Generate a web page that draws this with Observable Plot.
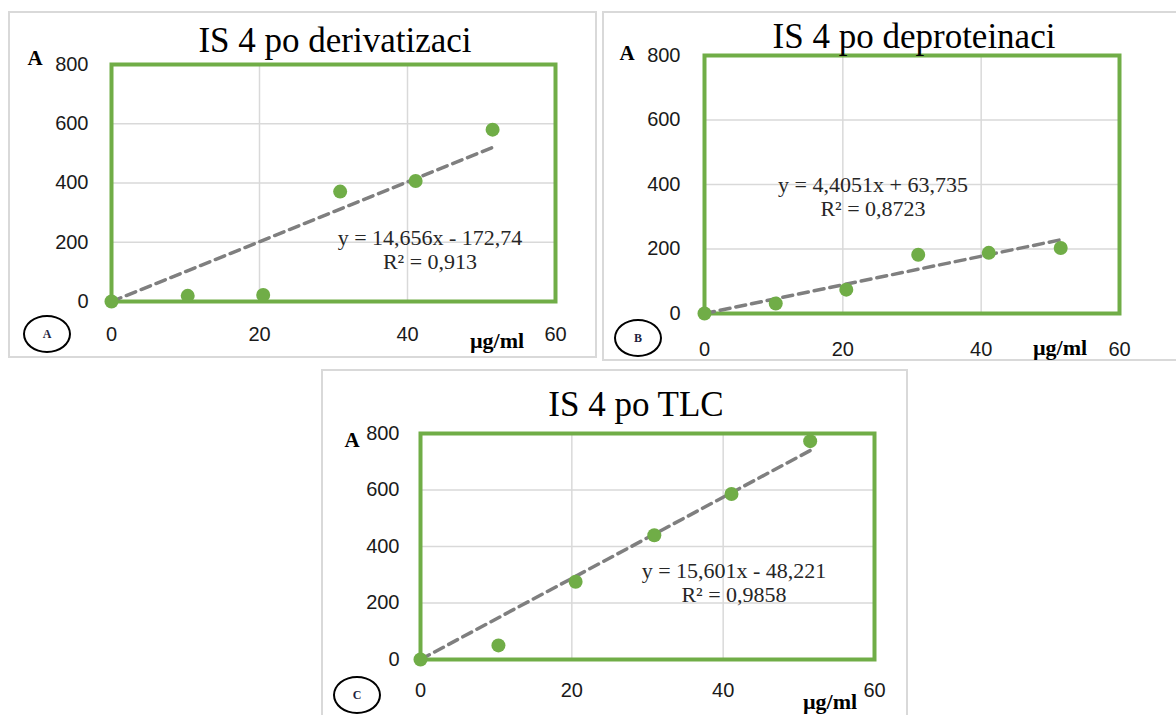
<!DOCTYPE html>
<html>
<head>
<meta charset="utf-8">
<script src="https://cdn.jsdelivr.net/npm/d3@7"></script>
<script src="https://cdn.jsdelivr.net/npm/@observablehq/plot@0.6"></script>
<style>
  html, body { margin: 0; padding: 0; background: #fff; }
  body { width: 1176px; height: 715px; position: relative; overflow: hidden; }
  .panel { position: absolute; border: 2px solid #d9d9d9; box-sizing: border-box; background: #fff; }
  .abs { position: absolute; white-space: nowrap; line-height: 1; transform: translate(-50%, -50%); }
  .title { font-family: "Liberation Serif", "Times New Roman", serif; font-size: 35px; color: #000; }
  .eq { font-family: "Liberation Serif", "Times New Roman", serif; font-size: 22px; color: #262626; text-align: center; line-height: 24px; }
  .ylab { font-family: "Liberation Serif", serif; font-weight: bold; font-size: 21px; color: #000; }
  .xlab { font-family: "Liberation Serif", serif; font-weight: bold; font-size: 22px; color: #000; }
  .circ { position: absolute; border: 2px solid #000; border-radius: 50%; box-sizing: border-box;
          display: flex; align-items: center; justify-content: center;
          font-family: "Liberation Serif", serif; font-weight: bold; font-size: 12px; color: #1f1f3f; }
  .chart { position: absolute; }
</style>
</head>
<body>
<script>
// ---- data ----
const concentration = [0, 10.3, 20.5, 30.9, 41.1, 51.5];
const absDerivatizace = [0, 19, 22, 371, 407, 580];
const absDeproteinace = [0, 31, 74, 182, 188, 203];
const absTLC = [0, 50, 275, 440, 586, 773];
const trendX = [0, 51.6];
const trendDerivatizace = [0, 521];
const trendDeproteinace = [0, 229];
const trendTLC = [0, 741];
const xTicks = [0, 20, 40, 60];
const yTicks = [0, 200, 400, 600, 800];
const titles = ["IS 4 po derivatizaci", "IS 4 po deproteinaci", "IS 4 po TLC"];
const equations = [
  ["y = 14,656x - 172,74", "R² = 0,913"],
  ["y = 4,4051x + 63,735", "R² = 0,8723"],
  ["y = 15,601x - 48,221", "R² = 0,9858"]
];
const panelLetters = ["A", "B", "C"];

const GREEN = "#70ad47";

function chart(vals, trendY, o) {
  const pts = concentration.map((x, i) => ({x, y: vals[i]}));
  const trend = trendX.map((x, i) => ({x, y: trendY[i]}));
  return Plot.plot({
    width: o.w, height: o.h,
    marginLeft: o.ml, marginRight: o.mr, marginTop: o.mt, marginBottom: o.mb,
    style: {fontFamily: "'Liberation Sans', Arial, sans-serif", fontSize: "20px", color: "#1a1a1a", background: "transparent", overflow: "visible"},
    x: {domain: [0, 60]},
    y: {domain: [0, 800]},
    marks: [
      Plot.gridX([20, 40], {stroke: "#d9d9d9", strokeOpacity: 1, strokeWidth: 1.5}),
      Plot.gridY([200, 400, 600], {stroke: "#d9d9d9", strokeOpacity: 1, strokeWidth: 1.5}),
      Plot.axisX(xTicks, {tickSize: 0, tickPadding: o.px, label: null, fontSize: 20}),
      Plot.axisY(yTicks, {tickSize: 0, tickPadding: o.py, label: null, fontSize: 20}),
      Plot.frame({stroke: GREEN, strokeWidth: 4}),
      Plot.line(trend, {x: "x", y: "y", stroke: "#7f7f7f", strokeWidth: 3.5, strokeDasharray: "10,6"}),
      Plot.dot(pts, {x: "x", y: "y", r: 7, fill: GREEN, stroke: "none"})
    ]
  });
}

function place(el, left, top) {
  el.classList.add("chart");
  el.style.left = left + "px";
  el.style.top = top + "px";
  document.body.appendChild(el);
}
function panel(l, t, w, h) {
  const d = document.createElement("div");
  d.className = "panel";
  Object.assign(d.style, {left: l + "px", top: t + "px", width: w + "px", height: h + "px"});
  document.body.appendChild(d);
}
function label(cls, text, cx, cy) {
  const d = document.createElement("div");
  d.className = "abs " + cls;
  d.innerHTML = text;
  d.style.left = cx + "px";
  d.style.top = cy + "px";
  document.body.appendChild(d);
}
function circle(letter, cx, cy) {
  const d = document.createElement("div");
  d.className = "circ";
  Object.assign(d.style, {left: (cx - 24) + "px", top: (cy - 19) + "px", width: "48px", height: "38px"});
  d.textContent = letter;
  document.body.appendChild(d);
}

// panels
panel(8, 11, 589, 347);
panel(602, 11, 580, 350);
panel(321, 369, 587, 352);

// chart A: frame 111..555 x 64..301
place(chart(absDerivatizace, trendDerivatizace, {w: 586, h: 345, ml: 101, mr: 41, mt: 52, mb: 56, px: 25, py: 23}), 10, 12);
// chart B: frame 704..1119 x 55..313
place(chart(absDeproteinace, trendDeproteinace, {w: 572, h: 345, ml: 100, mr: 57, mt: 43, mb: 44, px: 28, py: 24}), 604, 12);
// chart C: frame 420..874 x 433..658
place(chart(absTLC, trendTLC, {w: 584, h: 345, ml: 97, mr: 33, mt: 62, mb: 57, px: 23, py: 21}), 323, 371);

// titles
label("title", titles[0], 335, 40);
label("title", titles[1], 914, 36);
label("title", titles[2], 636, 404);

// equations
label("eq", equations[0].join("<br>"), 430, 250);
label("eq", equations[1].join("<br>"), 873, 197);
label("eq", equations[2].join("<br>"), 734, 583);

// axis labels
label("ylab", "A", 35, 58);
label("ylab", "A", 627, 53);
label("ylab", "A", 352, 440);
label("xlab", "µg/ml", 497, 341);
label("xlab", "µg/ml", 1060, 348);
label("xlab", "µg/ml", 830, 702);

// circled panel letters
circle(panelLetters[0], 47, 334);
circle(panelLetters[1], 638, 338);
circle(panelLetters[2], 357, 695);
</script>
</body>
</html>
